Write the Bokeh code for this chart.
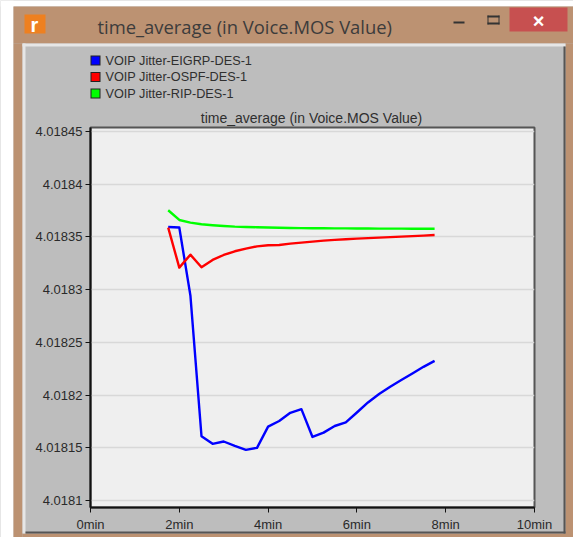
from bokeh.plotting import figure
from bokeh.embed import file_html
from bokeh.resources import INLINE
from bokeh.layouts import column
from bokeh.models import FixedTicker, Range1d
from bokeh.core.properties import value

t = [1.75, 2.0, 2.25, 2.5, 2.75, 3.0, 3.25, 3.5, 3.75, 4.0, 4.25, 4.5, 4.75,
     5.0, 5.25, 5.5, 5.75, 6.0, 6.25, 6.5, 6.75, 7.0, 7.25, 7.5, 7.75]
eigrp = [4.0183595, 4.0183589, 4.0182945, 4.0181610, 4.0181538, 4.0181560, 4.0181519,
         4.0181481, 4.0181500, 4.0181701, 4.0181754, 4.0181832, 4.0181867, 4.0181603,
         4.0181644, 4.0181707, 4.0181741, 4.0181835, 4.0181930, 4.0182011, 4.0182080,
         4.0182143, 4.0182205, 4.0182268, 4.0182325]
ospf = [4.0183589, 4.0183209, 4.0183332, 4.0183212, 4.0183282, 4.0183329, 4.0183364,
        4.0183389, 4.0183411, 4.0183421, 4.0183424, 4.0183437, 4.0183446, 4.0183456,
        4.0183465, 4.0183472, 4.0183478, 4.0183484, 4.0183489, 4.0183494, 4.0183498,
        4.0183503, 4.0183508, 4.0183513, 4.0183519]
rip = [4.0183753, 4.0183661, 4.0183636, 4.0183620, 4.0183611, 4.0183604, 4.0183598,
       4.0183595, 4.0183592, 4.0183589, 4.0183587, 4.0183585, 4.0183584, 4.0183583,
       4.0183582, 4.0183581, 4.0183581, 4.0183580, 4.0183580, 4.0183579, 4.0183579,
       4.0183579, 4.0183578, 4.0183578, 4.0183578]
series_names = ["VOIP Jitter-EIGRP-DES-1", "VOIP Jitter-OSPF-DES-1", "VOIP Jitter-RIP-DES-1"]
series_colors = ["#0000ff", "#ff0000", "#00ff00"]
x_ticks = [0, 2, 4, 6, 8, 10]
x_labels = ["0min", "2min", "4min", "6min", "8min", "10min"]
y_ticks = [4.0181, 4.01815, 4.0182, 4.01825, 4.0183, 4.01835, 4.0184, 4.01845]
y_labels = ["4.0181", "4.01815", "4.0182", "4.01825", "4.0183", "4.01835", "4.0184", "4.01845"]
title_text = "time_average (in Voice.MOS Value)"

W, H = 573, 537
FL, FR, FT, FB = 90, 534, 127, 507   # frame in picture pixels

# --- window chrome, legend and titles: a figure whose frame is the whole page ---
bg = figure(width=W, height=H, output_backend="svg", toolbar_location=None,
            x_range=Range1d(0, W), y_range=Range1d(H, 0), x_axis_type=None, y_axis_type=None,
            min_border=0, background_fill_color="#bdbdbd", border_fill_color="#bdbdbd",
            outline_line_color=None, frame_align=False)
bg.grid.visible = False


def box(l, r, t_, b, color):
    bg.quad(left=[l], right=[r], top=[t_], bottom=[b], fill_color=color, line_color=None)


def text(x, y, s, size, color="#2a2a2a", font="Liberation Sans", align="left", weight="normal"):
    bg.text(x=[x], y=[y], text=[s], text_font=value(font), text_font_size=value(size),
            text_color=color, text_align=align, text_baseline="middle", text_font_style=weight)


BROWN = "#bc9272"
box(0, 573, 0, 6, "#ffffff")        # white picture margin
box(0, 13, 0, 537, "#ffffff")
box(13, 573, 6, 43, BROWN)          # title bar
box(13, 22, 43, 537, BROWN)         # left frame
box(565, 573, 43, 537, BROWN)       # right frame
box(22, 573, 533, 537, BROWN)       # bottom frame
box(22, 565, 43, 46, "#e6e6e6")     # panel bevel
box(22, 25, 43, 533, "#e6e6e6")
box(563, 565, 46, 533, "#555555")
box(25, 565, 531, 533, "#555555")
box(509, 567, 7, 31, "#c75050")     # close button
box(453, 464, 21, 23, "#333333")    # minimise
box(487, 499, 15, 17, "#333333")    # maximise
box(487, 499, 22, 24, "#333333")
box(487, 488, 15, 24, "#333333")
box(498, 499, 15, 24, "#333333")
text(97, 26, title_text, "18.4px", "#3c3c3c", "Open Sans")
box(24, 45, 14, 33, "#ee8020")
text(34, 24, "r", "20px", "#ffffff", "Liberation Sans", "center", "bold")
text(538, 20, "\u00d7", "20px", "#ffffff", "Liberation Sans", "center", "bold")

for y_c, name, color in zip([60, 76.5, 93], series_names, series_colors):
    box(90, 100, y_c - 5, y_c + 5, "#222222")
    box(91, 99, y_c - 4, y_c + 4, color)
    text(105, y_c, name, "12.7px", "#2f2f2f")
text(311, 117, title_text, "14px", "#2f2f2f", align="center")

# --- the chart itself, laid over the chrome ---
p = figure(width=W, height=H, output_backend="svg", toolbar_location=None,
           x_range=Range1d(0, 10), y_range=Range1d(4.0180934, 4.0184538),
           min_border_left=FL, min_border_right=W - FR,
           min_border_top=FT, min_border_bottom=H - FB,
           background_fill_color="#efefef", border_fill_color=None,
           outline_line_color="#555555", outline_line_width=2,
           margin=(-H, 0, 0, 0), frame_align=False)

for name, vals, color in zip(series_names, [eigrp, ospf, rip], series_colors):
    p.line(t, vals, line_color=color, line_width=2.4, line_join="round", name=name)

p.xgrid.visible = False
p.ygrid.ticker = FixedTicker(ticks=y_ticks)
p.ygrid.grid_line_color = "#d8d8d8"
p.ygrid.grid_line_width = 1.5

p.xaxis.ticker = FixedTicker(ticks=x_ticks)
p.yaxis.ticker = FixedTicker(ticks=y_ticks)
p.xaxis.major_label_overrides = dict(zip(x_ticks, x_labels))
p.yaxis.major_label_overrides = dict(zip(y_ticks, y_labels))
for ax in (p.xaxis[0], p.yaxis[0]):
    ax.axis_line_color = "#111111"
    ax.axis_line_width = 2
    ax.major_tick_line_color = "#111111"
    ax.major_tick_in = 0
    ax.major_tick_out = 5
    ax.minor_tick_line_color = None
    ax.major_label_text_font = "Liberation Sans"
    ax.major_label_text_font_size = "13px"
    ax.major_label_text_color = "#2a2a2a"
p.yaxis.major_label_standoff = 3
p.xaxis.major_label_standoff = 4

page = column(bg, p, spacing=0)
open("out.html", "w").write(file_html(page, INLINE))
